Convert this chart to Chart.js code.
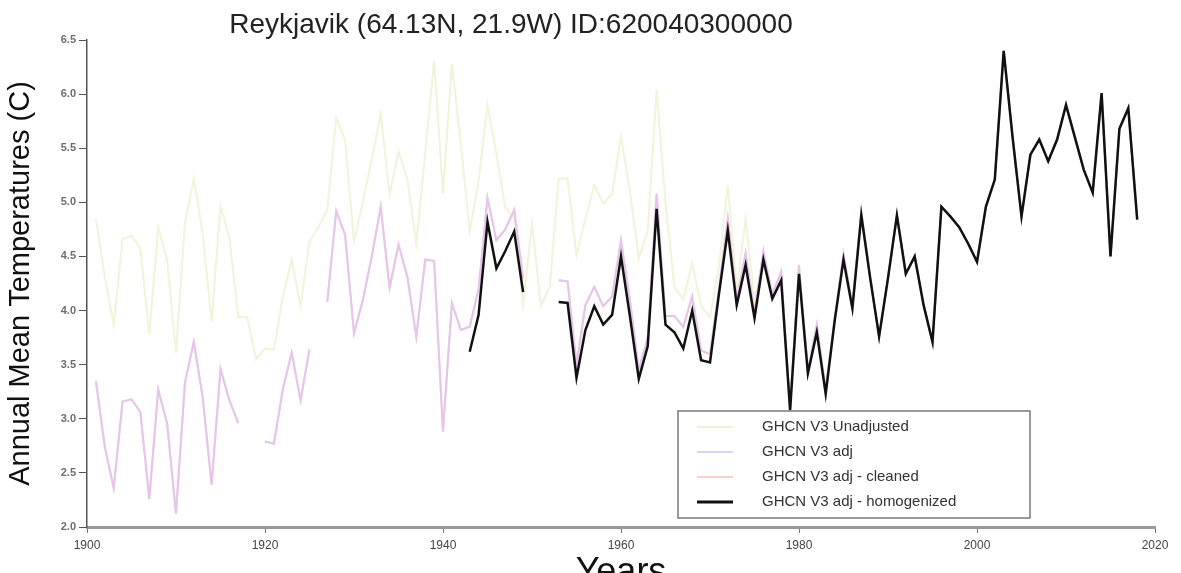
<!DOCTYPE html>
<html>
<head>
<meta charset="utf-8">
<script src="https://cdn.jsdelivr.net/npm/chart.js@4.4.1/dist/chart.umd.min.js"></script>
<style>
  html, body { margin: 0; padding: 0; background: #fff; }
  #wrap { width: 1181px; height: 573px; position: relative; }
</style>
</head>
<body>
<div id="wrap"><canvas id="myChart"></canvas></div>
<script>
const chartTitle = 'Reykjavik (64.13N, 21.9W) ID:620040300000';

const years = [
  1901, 1902, 1903, 1904, 1905, 1906, 1907, 1908, 1909, 1910,
  1911, 1912, 1913, 1914, 1915, 1916, 1917, 1918, 1919, 1920,
  1921, 1922, 1923, 1924, 1925, 1926, 1927, 1928, 1929, 1930,
  1931, 1932, 1933, 1934, 1935, 1936, 1937, 1938, 1939, 1940,
  1941, 1942, 1943, 1944, 1945, 1946, 1947, 1948, 1949, 1950,
  1951, 1952, 1953, 1954, 1955, 1956, 1957, 1958, 1959, 1960,
  1961, 1962, 1963, 1964, 1965, 1966, 1967, 1968, 1969, 1970,
  1971, 1972, 1973, 1974, 1975, 1976, 1977, 1978, 1979, 1980,
  1981, 1982, 1983, 1984, 1985, 1986, 1987, 1988, 1989, 1990,
  1991, 1992, 1993, 1994, 1995, 1996, 1997, 1998, 1999, 2000,
  2001, 2002, 2003, 2004, 2005, 2006, 2007, 2008, 2009, 2010,
  2011, 2012, 2013, 2014, 2015, 2016, 2017, 2018
];

const unadjusted = [
  4.85, 4.31, 3.87, 4.66, 4.69, 4.57, 3.78, 4.77, 4.47, 3.61,
  4.81, 5.22, 4.71, 3.90, 4.97, 4.67, 3.94, 3.94, 3.55, 3.65,
  3.64, 4.13, 4.47, 4.04, 4.64, 4.77, 4.93, 5.78, 5.58, 4.64,
  5.00, 5.40, 5.82, 5.07, 5.47, 5.21, 4.62, 5.45, 6.31, 5.08,
  6.28, 5.55, 4.73, 5.20, 5.90, 5.45, 4.95, 4.85, 4.05, 4.81,
  4.04, 4.22, 5.22, 5.22, 4.51, 4.85, 5.16, 4.99, 5.08, 5.61,
  5.10, 4.48, 4.74, 6.04, 5.00, 4.22, 4.10, 4.44, 4.04, 3.94,
  4.40, 5.16, 4.20, 4.84, 4.10, 4.47, 4.11, 4.28, 3.08, 4.34,
  3.42, 3.80, 3.23, 3.90, 4.47, 4.02, 4.88, 4.30, 3.76, 4.30,
  4.88, 4.34, 4.50, 4.05, 3.71, 4.96, 4.87, 4.77, 4.62, 4.45,
  4.96, 5.21, 6.40, 5.60, 4.87, 5.44, 5.58, 5.38, 5.58, 5.90,
  5.60, 5.30, 5.09, 6.01, 4.50, 5.68, 5.87, 4.84
];

const adjusted = [
  3.35, 2.74, 2.36, 3.16, 3.18, 3.06, 2.26, 3.27, 2.96, 2.12,
  3.33, 3.71, 3.20, 2.39, 3.46, 3.17, 2.96, null, null, 2.79,
  2.77, 3.27, 3.61, 3.17, 3.64, null, 4.08, 4.92, 4.70, 3.79,
  4.10, 4.50, 4.96, 4.21, 4.61, 4.31, 3.76, 4.47, 4.46, 2.88,
  4.07, 3.82, 3.85, 4.20, 5.04, 4.65, 4.75, 4.93, 4.30, null,
  null, null, 4.28, 4.27, 3.50, 4.05, 4.22, 4.04, 4.13, 4.65,
  4.10, 3.45, 3.75, 5.08, 3.95, 3.95, 3.85, 4.13, 3.63, 3.60,
  4.20, 4.85, 4.10, 4.53, 3.98, 4.55, 4.15, 4.36, 3.10, 4.42,
  3.45, 3.87, 3.27, 3.92, 4.52, 4.05, 4.92, 4.30, 3.76, 4.30,
  4.88, 4.34, 4.50, 4.05, 3.71, 4.96, 4.87, 4.77, 4.62, 4.45,
  4.96, 5.21, 6.40, 5.60, 4.87, 5.44, 5.58, 5.38, 5.58, 5.90,
  5.60, 5.30, 5.09, 6.01, 4.50, 5.68, 5.87, 4.84
];

const cleaned = [
  3.35, 2.74, 2.36, 3.16, 3.18, 3.06, 2.26, 3.27, 2.96, 2.12,
  3.33, 3.71, 3.20, 2.39, 3.46, 3.17, 2.96, null, null, 2.79,
  2.77, 3.27, 3.61, 3.17, 3.64, null, 4.08, 4.92, 4.70, 3.79,
  4.10, 4.50, 4.96, 4.21, 4.61, 4.31, 3.76, 4.47, 4.46, 2.88,
  4.07, 3.82, 3.85, 4.20, 5.04, 4.65, 4.75, 4.93, 4.30, null,
  null, null, 4.28, 4.27, 3.50, 4.05, 4.22, 4.04, 4.13, 4.65,
  4.10, 3.45, 3.75, 5.08, 3.95, 3.95, 3.85, 4.13, 3.63, 3.60,
  4.20, 4.85, 4.10, 4.53, 3.98, 4.55, 4.15, 4.36, 3.10, 4.42,
  3.45, 3.87, 3.27, 3.92, 4.52, 4.05, 4.92, 4.30, 3.76, 4.30,
  4.88, 4.34, 4.50, 4.05, 3.71, 4.96, 4.87, 4.77, 4.62, 4.45,
  4.96, 5.21, 6.40, 5.60, 4.87, 5.44, 5.58, 5.38, 5.58, 5.90,
  5.60, 5.30, 5.09, 6.01, 4.50, 5.68, 5.87, 4.84
];

const homogenized = [
  null, null, null, null, null, null, null, null, null, null,
  null, null, null, null, null, null, null, null, null, null,
  null, null, null, null, null, null, null, null, null, null,
  null, null, null, null, null, null, null, null, null, null,
  null, null, 3.62, 3.96, 4.82, 4.39, 4.55, 4.73, 4.17, null,
  null, null, 4.08, 4.07, 3.38, 3.82, 4.04, 3.87, 3.96, 4.50,
  3.95, 3.37, 3.67, 4.94, 3.87, 3.80, 3.65, 4.00, 3.54, 3.52,
  4.15, 4.74, 4.05, 4.42, 3.93, 4.47, 4.11, 4.28, 3.08, 4.34,
  3.42, 3.80, 3.23, 3.90, 4.47, 4.02, 4.88, 4.30, 3.76, 4.30,
  4.88, 4.34, 4.50, 4.05, 3.71, 4.96, 4.87, 4.77, 4.62, 4.45,
  4.96, 5.21, 6.40, 5.60, 4.87, 5.44, 5.58, 5.38, 5.58, 5.90,
  5.60, 5.30, 5.09, 6.01, 4.50, 5.68, 5.87, 4.84
];

const seriesLabels = ['GHCN V3 Unadjusted', 'GHCN V3 adj', 'GHCN V3 adj - cleaned', 'GHCN V3 adj - homogenized'];
const legendColors = ['#eef2d4', '#d4d4f8', '#f8d0d0', '#111111'];

const fontFamily = "'Liberation Sans', Arial, sans-serif";

function points(values) {
  return years.map((yr, i) => ({ x: yr, y: values[i] }));
}

// title sits left of canvas centre in the original, so draw it by hand
const titlePlugin = {
  id: 'plotTitle',
  afterDraw(chart) {
    const c = chart.ctx;
    c.save();
    c.font = '28px ' + fontFamily;
    c.fillStyle = '#222';
    c.textAlign = 'center';
    c.textBaseline = 'middle';
    c.fillText(chartTitle, 511, 25);
    c.restore();
  }
};

// boxed legend in the lower right of the plot
const boxLegend = {
  id: 'boxLegend',
  afterDatasetsDraw(chart) {
    const c = chart.ctx;
    c.save();
    c.fillStyle = '#fff';
    c.fillRect(678, 411, 352, 107);
    c.strokeStyle = '#7a7a7a';
    c.lineWidth = 1.5;
    c.strokeRect(678, 411, 352, 107);
    seriesLabels.forEach((lbl, i) => {
      const y = 427 + i * 25;
      c.strokeStyle = legendColors[i];
      c.lineWidth = i === 3 ? 3 : 2;
      c.beginPath();
      c.moveTo(697, y);
      c.lineTo(733, y);
      c.stroke();
      c.fillStyle = '#333';
      c.font = '15px ' + fontFamily;
      c.textAlign = 'left';
      c.textBaseline = 'middle';
      c.fillText(lbl, 762, y);
    });
    c.restore();
  }
};

const ctx = document.getElementById('myChart');

new Chart(ctx, {
  type: 'line',
  data: {
    datasets: [{
      label: seriesLabels[0],
      data: points(unadjusted),
      borderColor: '#f1f4d9',
      borderWidth: 2,
      order: 4
    }, {
      label: seriesLabels[1],
      data: points(adjusted),
      borderColor: '#d8cdf5',
      borderWidth: 2,
      order: 3
    }, {
      label: seriesLabels[2],
      data: points(cleaned),
      borderColor: 'rgba(240, 190, 225, 0.65)',
      borderWidth: 2,
      order: 2
    }, {
      label: seriesLabels[3],
      data: points(homogenized),
      borderColor: '#111',
      borderWidth: 2.5,
      order: 1
    }]
  },
  options: {
    responsive: true,
    maintainAspectRatio: false,
    animation: false,
    spanGaps: false,
    elements: {
      point: { radius: 0 },
      line: { tension: 0, borderJoinStyle: 'miter' }
    },
    layout: {
      padding: { top: 40, right: 26, left: 0, bottom: 0 }
    },
    scales: {
      x: {
        type: 'linear',
        min: 1900,
        max: 2020,
        ticks: {
          stepSize: 20,
          color: '#444',
          padding: 5,
          maxRotation: 0,
          font: { size: 12, family: fontFamily },
          callback: v => String(v)
        },
        grid: { drawOnChartArea: false, tickLength: 6, color: '#777' },
        border: { color: '#999', width: 3 },
        title: {
          display: true,
          text: 'Years',
          color: '#111',
          font: { size: 36, family: fontFamily },
          padding: { top: 0, bottom: -22 }
        },
        afterFit(s) { s.height = 46; }
      },
      y: {
        min: 2,
        max: 6.5,
        ticks: {
          stepSize: 0.5,
          color: '#6e6e6e',
          padding: 3,
          font: { size: 11, weight: 'bold', family: fontFamily },
          callback: v => v.toFixed(1)
        },
        grid: { drawOnChartArea: false, tickLength: 8, color: '#555' },
        border: { color: '#555', width: 1.5 },
        title: {
          display: true,
          text: 'Annual Mean Temperatures (C)',
          color: '#111',
          font: { size: 29, family: fontFamily },
          padding: { top: 4, bottom: 0 }
        },
        afterFit(s) { s.width = 87; }
      }
    },
    plugins: {
      legend: { display: false },
      tooltip: { enabled: false },
      title: { display: false }
    }
  },
  plugins: [titlePlugin, boxLegend]
});
</script>
</body>
</html>
